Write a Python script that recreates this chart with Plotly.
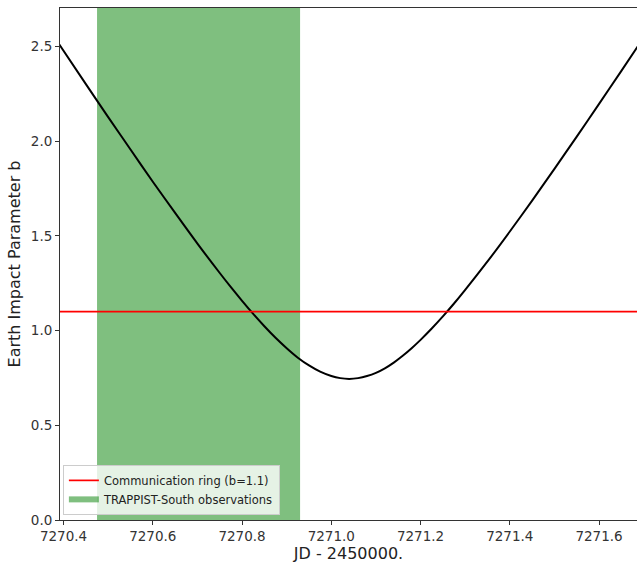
import plotly.graph_objects as go

# Julian date offset (JD - 2450000) and impact parameter
jd = [7270.39, 7270.45, 7270.50, 7270.55, 7270.60, 7270.65, 7270.70, 7270.75,
      7270.775, 7270.80, 7270.825, 7270.85, 7270.875, 7270.90, 7270.925, 7270.95,
      7270.975, 7271.00, 7271.02, 7271.04, 7271.06, 7271.08, 7271.10, 7271.12,
      7271.14, 7271.16, 7271.18, 7271.20, 7271.225, 7271.25, 7271.275, 7271.30,
      7271.35, 7271.40, 7271.45, 7271.50, 7271.55, 7271.60, 7271.65, 7271.69]
impact_b = [2.512, 2.301, 2.127, 1.956, 1.786, 1.621, 1.459, 1.304,
            1.229, 1.157, 1.088, 1.023, 0.962, 0.907, 0.857, 0.816,
            0.783, 0.760, 0.749, 0.745, 0.749, 0.760, 0.777, 0.801,
            0.831, 0.867, 0.907, 0.951, 1.011, 1.075, 1.143, 1.215,
            1.365, 1.523, 1.686, 1.854, 2.024, 2.197, 2.371, 2.512]

ring_b = 1.1
obs_window = [7270.475, 7270.93]

x_range = [7270.392, 7271.685]
y_range = [0.0, 2.703]

green_fill = "rgba(0,128,0,0.5)"

fig = go.Figure()

# observation window shaded band
fig.add_trace(go.Scatter(
    x=[obs_window[0], obs_window[1], obs_window[1], obs_window[0], obs_window[0]],
    y=[y_range[0], y_range[0], y_range[1], y_range[1], y_range[0]],
    fill="toself", fillcolor=green_fill, mode="none",
    name="TRAPPIST-South observations", legendrank=2, hoverinfo="skip",
))

# impact parameter curve
fig.add_trace(go.Scatter(
    x=jd, y=impact_b, mode="lines",
    line=dict(color="black", width=2, shape="spline", smoothing=0.8),
    showlegend=False,
))

# communication ring threshold
fig.add_trace(go.Scatter(
    x=x_range, y=[ring_b, ring_b], mode="lines", line=dict(color="#ff0000", width=1.7),
    name="Communication ring (b=1.1)", legendrank=1,
))

axis_common = dict(
    showgrid=False, zeroline=False, showline=True, linecolor="#333333", linewidth=1,
    ticks="outside", ticklen=4, tickwidth=1, tickcolor="#333333",
    tickfont=dict(family="DejaVu Sans", size=13.5, color="#333333"),
)

fig.update_layout(
    width=637, height=565,
    margin=dict(l=60, r=0, t=8, b=45),
    plot_bgcolor="white", paper_bgcolor="white",
    xaxis=dict(range=x_range, tickvals=[7270.4, 7270.6, 7270.8, 7271.0, 7271.2, 7271.4, 7271.6],
               ticktext=["7270.4", "7270.6", "7270.8", "7271.0", "7271.2", "7271.4", "7271.6"],
               mirror=True,
               title=dict(text="JD - 2450000.", font=dict(family="DejaVu Sans", size=16, color="#222222"),
                          standoff=2),
               **axis_common),
    yaxis=dict(range=y_range, tickvals=[0.0, 0.5, 1.0, 1.5, 2.0, 2.5],
               ticktext=["0.0", "0.5", "1.0", "1.5", "2.0", "2.5"],
               title=dict(text="Earth Impact Parameter b", font=dict(family="DejaVu Sans", size=16, color="#222222"),
                          standoff=6),
               **axis_common),
    legend=dict(x=0.005, y=0.01, xanchor="left", yanchor="bottom",
                bgcolor="rgba(255,255,255,0.8)", bordercolor="#cccccc", borderwidth=1,
                font=dict(family="DejaVu Sans", size=11.5, color="#222222"),
                tracegroupgap=0, itemwidth=30),
    showlegend=True,
)

fig.write_html("out.html")
